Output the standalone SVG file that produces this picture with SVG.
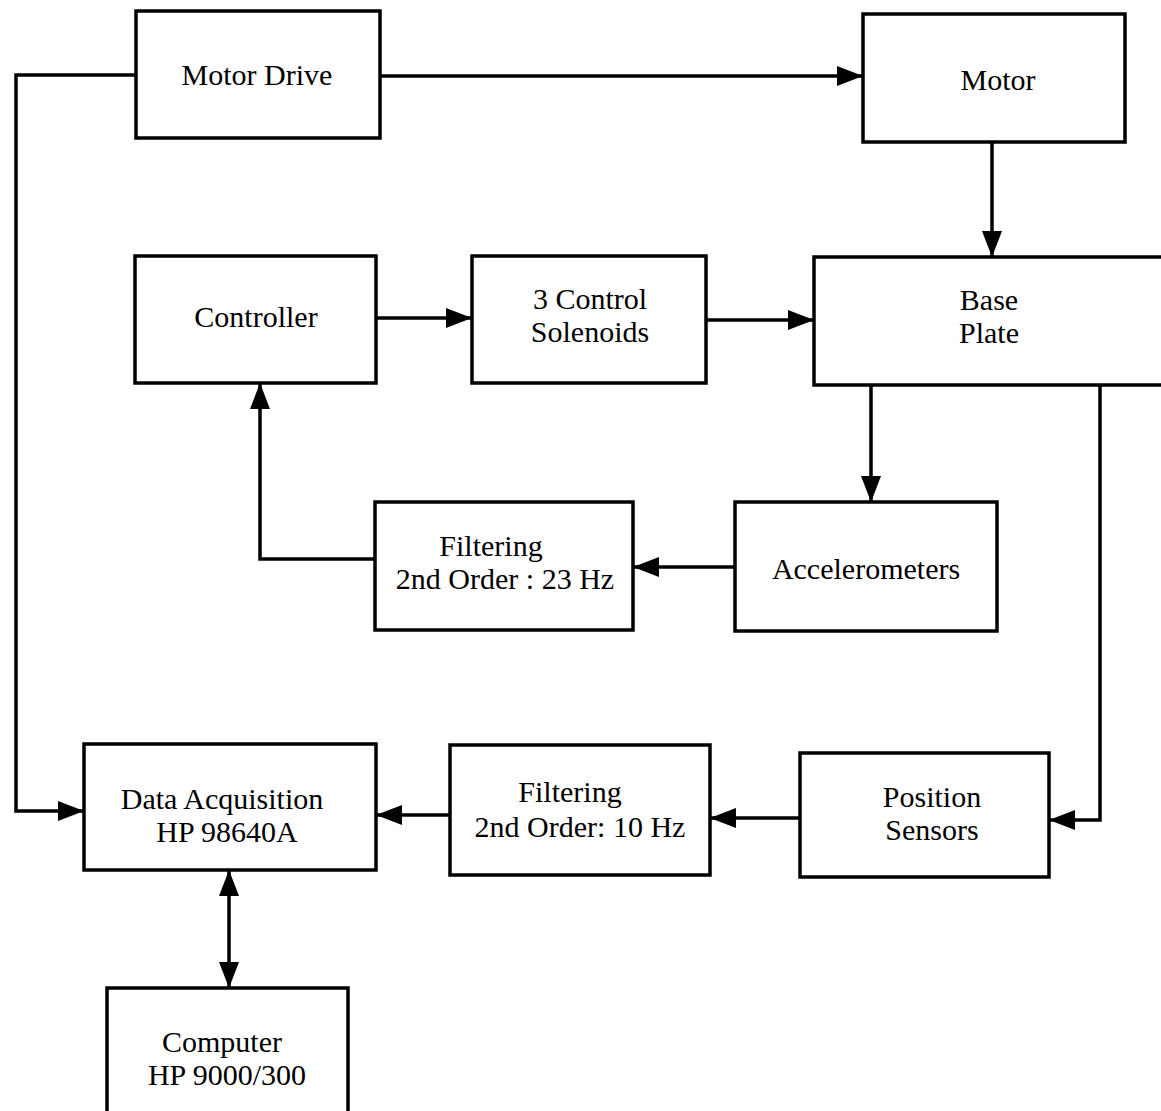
<svg xmlns="http://www.w3.org/2000/svg" width="1161" height="1111" viewBox="0 0 1161 1111">
  <style>
    .box { fill: #fff; stroke: #000; stroke-width: 3.5; }
    .lbl { font-family: "Liberation Serif", "Times New Roman", serif; font-size: 30px; fill: #000; text-anchor: middle; }
    .wire { fill: none; stroke: #000; stroke-width: 3.5; }
  </style>
  <defs>
    <marker id="head" viewBox="0 0 26 20" refX="26" refY="10" markerWidth="26" markerHeight="20" markerUnits="userSpaceOnUse" orient="auto-start-reverse">
      <path d="M0,0 L26,10 L0,20 Z" fill="#000"/>
    </marker>
  </defs>
  <rect width="1161" height="1111" fill="#fff"/>

  <g id="connectors">
    <!-- Motor Drive to Motor -->
    <path class="wire" d="M380,76 L863,76" marker-end="url(#head)"/>
    <!-- Motor to Base Plate -->
    <path class="wire" d="M992,143 L992,257" marker-end="url(#head)"/>
    <!-- Controller to Solenoids -->
    <path class="wire" d="M376,318 L472,318" marker-end="url(#head)"/>
    <!-- Solenoids to Base Plate -->
    <path class="wire" d="M706,320 L814,320" marker-end="url(#head)"/>
    <!-- Base Plate to Accelerometers -->
    <path class="wire" d="M871,385 L871,502" marker-end="url(#head)"/>
    <!-- Accelerometers to 23 Hz filter -->
    <path class="wire" d="M735,567 L633,567" marker-end="url(#head)"/>
    <!-- 23 Hz filter back to Controller -->
    <path class="wire" d="M375,559 L260,559 L260,383" marker-end="url(#head)"/>
    <!-- Base Plate to Position Sensors -->
    <path class="wire" d="M1100,385 L1100,820 L1049,820" marker-end="url(#head)"/>
    <!-- Position Sensors to 10 Hz filter -->
    <path class="wire" d="M800,818 L710,818" marker-end="url(#head)"/>
    <!-- 10 Hz filter to Data Acquisition -->
    <path class="wire" d="M450,815 L376,815" marker-end="url(#head)"/>
    <!-- Motor Drive to Data Acquisition -->
    <path class="wire" d="M136,75 L16,75 L16,811 L84,811" marker-end="url(#head)"/>
    <!-- Data Acquisition to Computer (both ways) -->
    <path class="wire" d="M229,870 L229,988" marker-start="url(#head)" marker-end="url(#head)"/>
  </g>

  <g id="motor-drive">
    <rect class="box" x="136" y="11" width="244" height="127"/>
    <text class="lbl" x="257" y="85">Motor Drive</text>
  </g>
  <g id="motor">
    <rect class="box" x="863" y="14" width="262" height="128"/>
    <text class="lbl" x="998" y="90">Motor</text>
  </g>
  <g id="controller">
    <rect class="box" x="135" y="256" width="241" height="127"/>
    <text class="lbl" x="256" y="327">Controller</text>
  </g>
  <g id="solenoids">
    <rect class="box" x="472" y="256" width="234" height="127"/>
    <text class="lbl" x="590" y="309">3 Control</text>
    <text class="lbl" x="590" y="342">Solenoids</text>
  </g>
  <g id="base-plate">
    <rect class="box" x="814" y="257" width="360" height="128"/>
    <text class="lbl" x="989" y="310">Base</text>
    <text class="lbl" x="989" y="343">Plate</text>
  </g>
  <g id="accelerometers">
    <rect class="box" x="735" y="502" width="262" height="129"/>
    <text class="lbl" x="866" y="579">Accelerometers</text>
  </g>
  <g id="filter-23hz">
    <rect class="box" x="375" y="502" width="258" height="128"/>
    <text class="lbl" x="491" y="556">Filtering</text>
    <text class="lbl" x="505" y="589">2nd Order : 23 Hz</text>
  </g>
  <g id="position-sensors">
    <rect class="box" x="800" y="753" width="249" height="124"/>
    <text class="lbl" x="932" y="807">Position</text>
    <text class="lbl" x="932" y="840">Sensors</text>
  </g>
  <g id="filter-10hz">
    <rect class="box" x="450" y="745" width="260" height="130"/>
    <text class="lbl" x="570" y="802">Filtering</text>
    <text class="lbl" x="580" y="837">2nd Order: 10 Hz</text>
  </g>
  <g id="data-acquisition">
    <rect class="box" x="84" y="744" width="292" height="126"/>
    <text class="lbl" x="222" y="809">Data Acquisition</text>
    <text class="lbl" x="227" y="842">HP 98640A</text>
  </g>
  <g id="computer">
    <rect class="box" x="107" y="988" width="241" height="140"/>
    <text class="lbl" x="222" y="1052">Computer</text>
    <text class="lbl" x="227" y="1085">HP 9000/300</text>
  </g>
</svg>
